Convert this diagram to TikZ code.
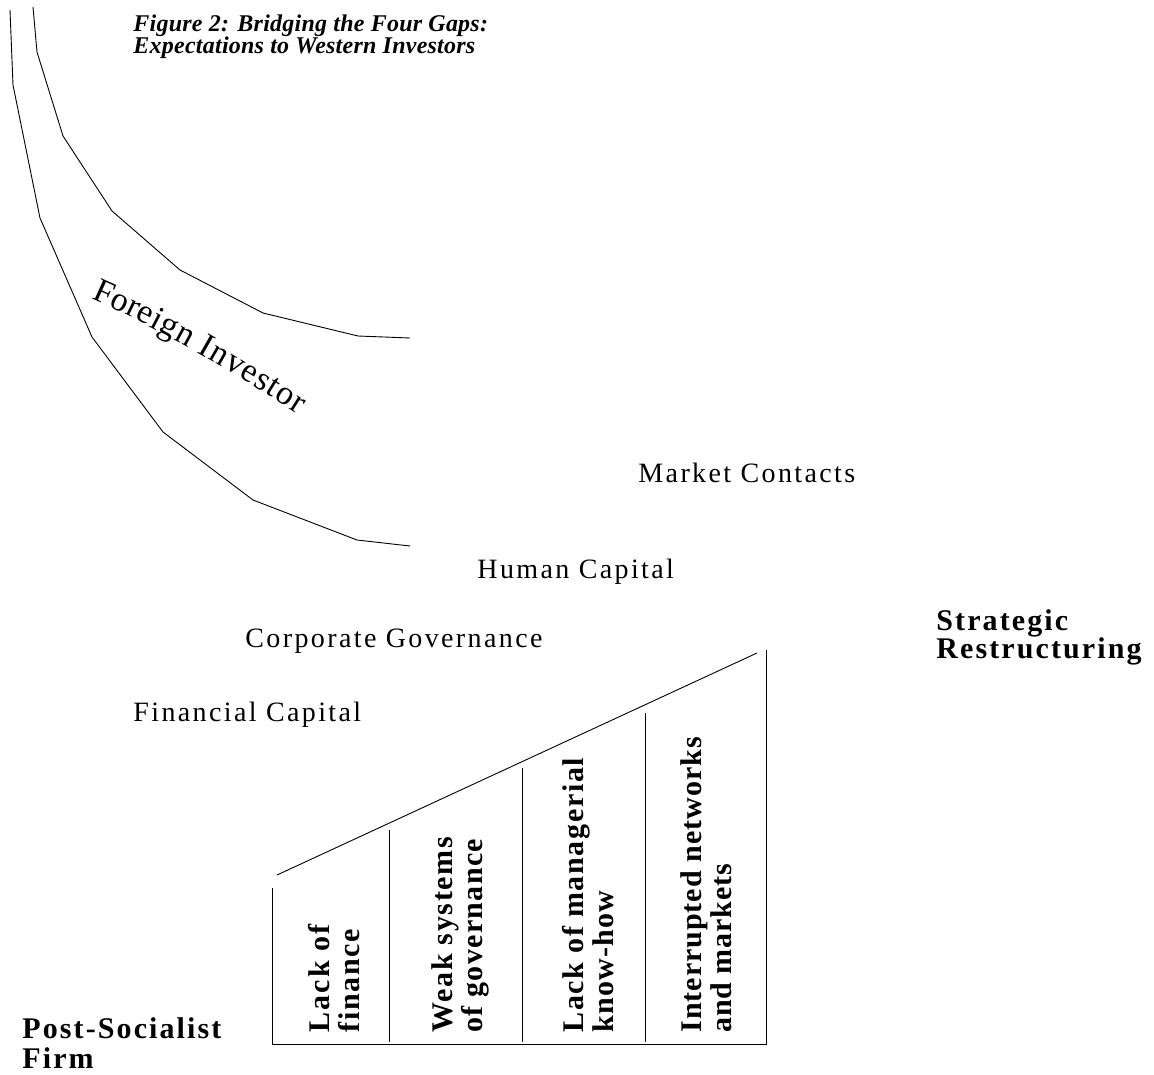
\documentclass[tikz,border=0pt]{standalone}
\usepackage{fontspec}
\setmainfont{Liberation Serif}
\newfontfamily\labfont{Liberation Serif}
\begin{document}
\begin{tikzpicture}[x=1pt,y=-1pt,line width=0.9pt,
  lab/.style={font=\fontsize{28}{30}\selectfont\labfont\addfontfeature{LetterSpace=8.5}, anchor=base west, inner sep=0pt},
  fi/.style={font=\fontsize{34}{36}\selectfont\labfont, sloped, anchor=base west, inner sep=0pt},
  blab/.style={font=\fontsize{30}{30}\selectfont\labfont\bfseries\addfontfeature{LetterSpace=7}, anchor=base west, inner sep=0pt},
  vlab/.style={font=\fontsize{30}{30}\selectfont\labfont\bfseries\addfontfeature{LetterSpace=#1}, rotate=90, anchor=base west, inner sep=0pt},
  ttl/.style={font=\fontsize{24}{24}\selectfont\labfont\bfseries\itshape\addfontfeature{LetterSpace=1}, anchor=base west, inner sep=0pt},
  edge/.style={line width=0.9pt}]
\useasboundingbox (0,0) rectangle (1154,1074);
% curves
\coordinate (o1) at (10,10);
\coordinate (o8) at (410,546);
\coordinate (i1) at (33,7);
\coordinate (i8) at (410,338);
\draw[edge] (o1) -- (13,85) -- (40,218) -- (92,337) -- (163,432) -- (253,500) -- (357,540) -- (o8);
\draw[edge] (i1) -- (37,52) -- (63,136) -- (112,211) -- (180,270) -- (263,313) -- (358,336) -- (i8);
% foreign investor, letter by letter along a curve
\coordinate (fa) at (91,298);
\coordinate (fb) at (298,414);
\path (fa) .. controls (160,329) and (230,370) .. (fb)
  node[fi,pos=0]     (fi1)  {F}
  node[fi,pos=0.083] (fi2)  {o}
  node[fi,pos=0.158] (fi3)  {r}
  node[fi,pos=0.209] (fi4)  {e}
  node[fi,pos=0.276] (fi5)  {i}
  node[fi,pos=0.319] (fi6)  {g}
  node[fi,pos=0.394] (fi7)  {n}
  node[fi,pos=0.508] (fi8)  {I}
  node[fi,pos=0.559] (fi9)  {n}
  node[fi,pos=0.634] (fi10) {v}
  node[fi,pos=0.709] (fi11) {e}
  node[fi,pos=0.775] (fi12) {s}
  node[fi,pos=0.834] (fi13) {t}
  node[fi,pos=0.878] (fi14) {o}
  node[fi,pos=0.953] (fi15) {r};
% title
\node[ttl] (t1) at (133,31) {Figure 2: Bridging the Four Gaps:};
\node[ttl] (t2) at (133,53) {Expectations to Western Investors};
% labels
\node[lab] (mc) at (638,482) {Market Contacts};
\node[lab] (hc) at (477,578) {Human Capital};
\node[lab] (cg) at (245,647) {Corporate Governance};
\node[lab] (fc) at (133,721) {Financial Capital};
\node[blab] (sr1) at (936,630) {Strategic};
\node[blab] (sr2) at (936,658) {Restructuring};
\node[blab] (ps1) at (22,1038) {Post-Socialist};
\node[blab] (ps2) at (22,1068) {Firm};
% trapezoid
\coordinate (bl) at (272,1044);
\coordinate (tl) at (272,888);
\coordinate (br) at (766,1044);
\coordinate (tr) at (766,650);
\coordinate (s1) at (277,875);
\coordinate (s2) at (757,653);
\draw[edge] (tl) -- (bl) -- (br) -- (tr);
\draw[edge] (s1) -- (s2);
\coordinate (d1t) at (389,830); \coordinate (d1b) at (389,1042);
\coordinate (d2t) at (522,768); \coordinate (d2b) at (522,1042);
\coordinate (d3t) at (645,713); \coordinate (d3b) at (645,1042);
\draw[edge] (d1t) -- (d1b);
\draw[edge] (d2t) -- (d2b);
\draw[edge] (d3t) -- (d3b);
% vertical texts
\node[vlab=7] (c1a) at (329,1033) {Lack of};
\node[vlab=5.6] (c1b) at (359,1033) {finance};
\node[vlab=5.5] (c2a) at (452,1033) {Weak systems};
\node[vlab=4.4] (c2b) at (482,1033) {of governance};
\node[vlab=5.5] (c3a) at (583,1033) {Lack of managerial};
\node[vlab=4] (c3b) at (613,1033) {know-how};
\node[vlab=3.3] (c4a) at (701,1033) {Interrupted networks};
\node[vlab=3] (c4b) at (731,1033) {and markets};
\end{tikzpicture}
\end{document}
